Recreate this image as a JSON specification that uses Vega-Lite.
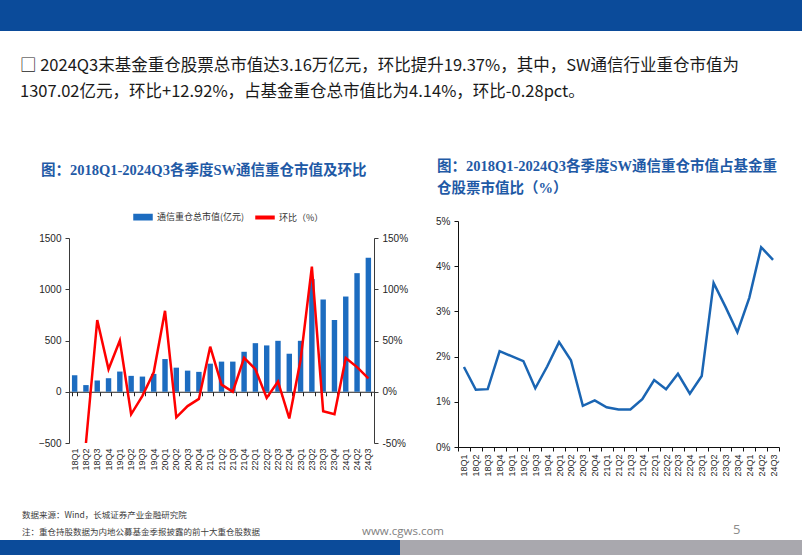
{
  "$schema": "https://vega.github.io/schema/vega-lite/v6.json",
  "background": "#ffffff",
  "padding": 0,
  "spacing": 44,
  "config": {
    "view": {"stroke": null},
    "font": "Noto Sans CJK SC",
    "axis": {"grid": false, "labelFont": "Liberation Sans", "labelFontSize": 10, "labelColor": "#262626", "domainColor": "#3a3a3a", "tickColor": "#3a3a3a", "tickSize": 4, "title": null},
    "title": {"fontWeight": "normal"}
  },
  "resolve": {"scale": {"color": "independent"}, "legend": {"color": "independent"}},
  "datasets": {
    "q": [
      {"q": "18Q1", "mv": 161, "qoq": null, "share": 1.77},
      {"q": "18Q2", "mv": 65, "qoq": -50, "share": 1.265},
      {"q": "18Q3", "mv": 110, "qoq": 70, "share": 1.28},
      {"q": "18Q4", "mv": 132, "qoq": 22, "share": 2.12},
      {"q": "19Q1", "mv": 197, "qoq": 50, "share": 2.01},
      {"q": "19Q2", "mv": 155, "qoq": -22, "share": 1.9},
      {"q": "19Q3", "mv": 148, "qoq": -4, "share": 1.3},
      {"q": "19Q4", "mv": 174, "qoq": 19, "share": 1.78},
      {"q": "20Q1", "mv": 319, "qoq": 79, "share": 2.32},
      {"q": "20Q2", "mv": 235, "qoq": -25, "share": 1.92},
      {"q": "20Q3", "mv": 206, "qoq": -14, "share": 0.91},
      {"q": "20Q4", "mv": 194, "qoq": -7, "share": 1.03},
      {"q": "21Q1", "mv": 274, "qoq": 44, "share": 0.88},
      {"q": "21Q2", "mv": 294, "qoq": 7, "share": 0.83},
      {"q": "21Q3", "mv": 294, "qoq": 0, "share": 0.83},
      {"q": "21Q4", "mv": 390, "qoq": 33, "share": 1.06},
      {"q": "22Q1", "mv": 474, "qoq": 22, "share": 1.48},
      {"q": "22Q2", "mv": 452, "qoq": -6, "share": 1.28},
      {"q": "22Q3", "mv": 497, "qoq": 10, "share": 1.62},
      {"q": "22Q4", "mv": 371, "qoq": -26, "share": 1.18},
      {"q": "23Q1", "mv": 497, "qoq": 31, "share": 1.57},
      {"q": "23Q2", "mv": 1100, "qoq": 122, "share": 3.63},
      {"q": "23Q3", "mv": 900, "qoq": -19, "share": 3.1},
      {"q": "23Q4", "mv": 700, "qoq": -22, "share": 2.54},
      {"q": "24Q1", "mv": 929, "qoq": 33, "share": 3.3},
      {"q": "24Q2", "mv": 1157, "qoq": 24, "share": 4.42},
      {"q": "24Q3", "mv": 1307, "qoq": 13, "share": 4.14}
    ]
  },
  "vconcat": [
    {
      "width": 802,
      "height": 31,
      "view": {"fill": "#0b4b9a", "stroke": null},
      "data": {"values": [{}]},
      "mark": {"type": "text", "text": ""},
      "title": {
        "text": ["□ 2024Q3末基金重仓股票总市值达3.16万亿元，环比提升19.37%，其中，SW通信行业重仓市值为", "　 1307.02亿元，环比+12.92%，占基金重仓总市值比为4.14%，环比-0.28pct。"],
        "orient": "bottom",
        "anchor": "start",
        "frame": "group",
        "dx": 20,
        "offset": 27,
        "fontSize": 16.5,
        "lineHeight": 26,
        "color": "#1a1a1a",
        "font": "Noto Sans CJK SC",
        "fontWeight": "normal"
      }
    },
    {
      "spacing": 33,
      "resolve": {"scale": {"color": "independent"}, "legend": {"color": "independent"}},
      "vconcat": [
        {
          "spacing": 0,
          "resolve": {"scale": {"color": "independent"}, "legend": {"color": "independent"}},
          "hconcat": [
            {"width": 38, "height": 1, "data": {"values": [{}]}, "mark": {"type": "text", "text": ""}},
            {
              "spacing": 0,
              "resolve": {"scale": {"color": "independent"}, "legend": {"color": "independent"}},
              "vconcat": [
                {"width": 1, "height": 11, "data": {"values": [{}]}, "mark": {"type": "text", "text": ""}},
                {
                  "width": 305,
                  "height": 205,
                  "data": {"name": "q"},
                  "title": {"text": "图：2018Q1-2024Q3各季度SW通信重仓市值及环比", "anchor": "start", "frame": "group", "dx": -28, "offset": 29, "font": "Liberation Serif, Noto Sans CJK SC", "fontSize": 14.5, "fontWeight": "bold", "color": "#1f5aa6"},
                  "layer": [
                    {
                      "mark": {"type": "bar"},
                      "encoding": {
                        "x": {"field": "q", "type": "ordinal", "sort": null, "scale": {"paddingInner": 0.52, "paddingOuter": 0.26}, "axis": {"labelAngle": -90, "labelFontSize": 9, "domain": false, "ticks": false, "labelPadding": 5}},
                        "y": {"field": "mv", "type": "quantitative", "scale": {"domain": [-500, 1500], "nice": false}, "axis": {"values": [-500, 0, 500, 1000, 1500], "format": "d", "labelPadding": 4}},
                        "color": {
                          "datum": "通信重仓总市值(亿元)",
                          "scale": {"domain": ["通信重仓总市值(亿元)", "环比（%）"], "range": ["#1c6cc0", "#ff0000"]},
                          "legend": {
                            "orient": "none",
                            "legendX": 64,
                            "legendY": -31,
                            "direction": "horizontal",
                            "title": null,
                            "labelFontSize": 9,
                            "labelColor": "#333333",
                            "symbolSize": 324,
                            "columnPadding": 8,
                            "encode": {"symbols": {"update": {
                              "shape": {"signal": "datum.value === '环比（%）' ? 'M-1,-0.13H1V0.13H-1Z' : 'M-1,-0.3H1V0.3H-1Z'"},
                              "fill": {"scale": "color", "field": "value"},
                              "stroke": {"value": "transparent"}
                            }}}
                          }
                        }
                      }
                    },
                    {
                      "mark": {"type": "line", "strokeWidth": 2.5},
                      "encoding": {
                        "x": {"field": "q", "type": "ordinal", "sort": null, "axis": {"orient": "bottom", "offset": -51.25, "labels": false, "domain": true, "ticks": true, "tickBand": "extent", "tickSize": 4, "domainColor": "#222222", "tickColor": "#222222"}},
                        "y": {"field": "qoq", "type": "quantitative", "scale": {"domain": [-50, 150], "nice": false}, "axis": {"orient": "right", "values": [-50, 0, 50, 100, 150], "labelExpr": "datum.value + '%'", "labelPadding": 4}},
                        "color": {"datum": "环比（%）"}
                      }
                    }
                  ],
                  "resolve": {"scale": {"y": "independent"}, "axis": {"x": "independent"}}
                }
              ]
            },
            {"width": 27, "height": 1, "data": {"values": [{}]}, "mark": {"type": "text", "text": ""}},
            {
              "spacing": 0,
              "vconcat": [
                {"width": 1, "height": 4, "data": {"values": [{}]}, "mark": {"type": "text", "text": ""}},
                {
                  "width": 321,
                  "height": 226,
                  "data": {"name": "q"},
                  "title": {"text": ["图：2018Q1-2024Q3各季度SW通信重仓市值占基金重", "仓股票市值比（%）"], "anchor": "start", "frame": "group", "dx": -21, "offset": 20, "lineHeight": 22, "font": "Liberation Serif, Noto Sans CJK SC", "fontSize": 14.5, "fontWeight": "bold", "color": "#1f5aa6"},
                  "mark": {"type": "line", "color": "#1a65b3", "strokeWidth": 2.5},
                  "encoding": {
                    "x": {"field": "q", "type": "ordinal", "sort": null, "scale": {"paddingInner": 0, "paddingOuter": 0}, "axis": {"labelAngle": -90, "labelFontSize": 9, "tickBand": "extent", "tickSize": 4, "domainColor": "#111111", "tickColor": "#111111", "labelPadding": 3}},
                    "y": {"field": "share", "type": "quantitative", "scale": {"domain": [0, 5], "nice": false}, "axis": {"values": [0, 1, 2, 3, 4, 5], "labelExpr": "datum.value + '%'", "domainColor": "#111111", "tickColor": "#111111", "labelPadding": 4}}
                  }
                }
              ]
            }
          ]
        },
        {
          "spacing": 0,
          "bounds": "flush",
          "hconcat": [
            {
              "width": 400, "height": 15,
              "view": {"fill": "#0b4b9a", "stroke": null},
              "data": {"values": [{}]},
              "mark": {"type": "text", "text": ""},
              "title": {"text": ["数据来源：Wind，长城证券产业金融研究院", "注：重仓持股数据为内地公募基金季报披露的前十大重仓股数据"], "anchor": "start", "frame": "group", "dx": 22, "offset": 4, "lineHeight": 17, "fontSize": 8.5, "color": "#3c3c3c", "font": "Noto Sans CJK SC", "fontWeight": "normal"}
            },
            {
              "width": 300, "height": 15,
              "view": {"fill": "#a9a8ae", "stroke": null},
              "data": {"values": [{}]},
              "mark": {"type": "text", "text": ""},
              "title": {"text": "www.cgws.com", "anchor": "start", "frame": "group", "dx": -38, "offset": 3, "fontSize": 11.5, "color": "#7f7f7f", "font": "Open Sans", "fontWeight": "normal"}
            },
            {
              "width": 102, "height": 15,
              "view": {"fill": "#a9a8ae", "stroke": null},
              "data": {"values": [{}]},
              "mark": {"type": "text", "text": ""},
              "title": {"text": "5", "anchor": "start", "frame": "group", "dx": 33, "offset": 3, "fontSize": 13, "color": "#8c8c8c", "font": "Open Sans", "fontWeight": "normal"}
            }
          ]
        }
      ]
    }
  ]
}
